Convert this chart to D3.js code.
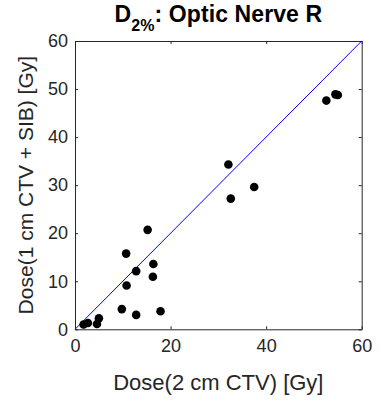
<!DOCTYPE html>
<html>
<head>
<meta charset="utf-8">
<script src="https://cdn.jsdelivr.net/npm/d3@7"></script>
<style>
  body { margin: 0; background: #fff; }
  text { font-family: "Liberation Sans", Arial, Helvetica, sans-serif; fill: #262626; }
</style>
</head>
<body>
<div id="chart"></div>
<script>
// dose to optic nerve R, 2 cm CTV (x) vs 1 cm CTV + SIB (y), in Gy
var dose2cm = [1.8, 2.7, 4.6, 5.0, 9.8, 12.8, 17.9, 10.8, 12.8, 16.3, 16.4, 10.7, 15.2, 32.6, 32.1, 37.5, 52.6, 54.5, 55.0];
var dose1cm = [1.0, 1.3, 1.1, 2.3, 4.2, 3.0, 3.75, 9.1, 12.1, 10.95, 13.6, 15.75, 20.7, 27.2, 34.3, 29.6, 47.6, 48.9, 48.75];
var xTicks = [0, 20, 40, 60];
var yTicks = [0, 10, 20, 30, 40, 50, 60];

var width = 382;
var height = 405;
var plotLeft = 75, plotRight = 361.7, plotTop = 41, plotBottom = 329.3;

var svg = d3.select('#chart')
            .append('svg')
            .attr('width', width)
            .attr('height', height);

var x = d3.scaleLinear().domain([0, 60]).range([plotLeft, plotRight]);
var y = d3.scaleLinear().domain([0, 60]).range([plotBottom, plotTop]);

// box with inward ticks on all four sides
var axisColor = '#262626';

svg.append('g')
   .attr('transform', 'translate(0,' + plotBottom + ')')
   .call(d3.axisBottom(x).tickValues(xTicks).tickSizeInner(-3).tickSizeOuter(0).tickPadding(10).tickFormat(d3.format('d')))
   .call(g => g.selectAll('text').attr('font-size', 18).style('fill', axisColor).attr('font-family', null));

svg.append('g')
   .attr('transform', 'translate(0,' + plotTop + ')')
   .call(d3.axisTop(x).tickValues(xTicks).tickSizeInner(-3).tickSizeOuter(0).tickFormat(''));

svg.append('g')
   .attr('transform', 'translate(' + plotLeft + ',0)')
   .call(d3.axisLeft(y).tickValues(yTicks).tickSizeInner(-3).tickSizeOuter(0).tickPadding(7).tickFormat(d3.format('d')))
   .call(g => g.selectAll('text').attr('font-size', 18).style('fill', axisColor).attr('font-family', null));

svg.append('g')
   .attr('transform', 'translate(' + plotRight + ',0)')
   .call(d3.axisRight(y).tickValues(yTicks).tickSizeInner(-3).tickSizeOuter(0).tickFormat(''));

svg.selectAll('.domain, .tick line').attr('stroke', axisColor);

// identity line
svg.append('line')
   .attr('x1', x(0)).attr('y1', y(0))
   .attr('x2', x(60)).attr('y2', y(60))
   .attr('stroke', '#0000ff')
   .attr('stroke-width', 1);

svg.append('g')
   .selectAll('circle')
   .data(dose2cm)
   .enter()
   .append('circle')
   .attr('cx', d => x(d))
   .attr('cy', (d, i) => y(dose1cm[i]))
   .attr('r', 4.3)
   .attr('fill', '#000');

// title with subscript
var title = svg.append('text')
               .attr('x', (plotLeft + plotRight) / 2)
               .attr('y', 22)
               .attr('text-anchor', 'middle')
               .attr('font-size', 23)
               .attr('font-weight', 'bold')
               .attr('letter-spacing', 0.1)
               .style('fill', '#000');
title.append('tspan').text('D');
title.append('tspan').attr('font-size', 16).attr('dy', 9).text('2%');
title.append('tspan').attr('dy', -9).text(': Optic Nerve R');

svg.append('text')
   .attr('x', (plotLeft + plotRight) / 2)
   .attr('y', 390)
   .attr('text-anchor', 'middle')
   .attr('font-size', 22)
   .text('Dose(2 cm CTV) [Gy]');

svg.append('text')
   .attr('transform', 'translate(33,' + ((plotTop + plotBottom) / 2) + ') rotate(-90)')
   .attr('text-anchor', 'middle')
   .attr('font-size', 21)
   .text('Dose(1 cm CTV + SIB) [Gy]');
</script>
</body>
</html>
